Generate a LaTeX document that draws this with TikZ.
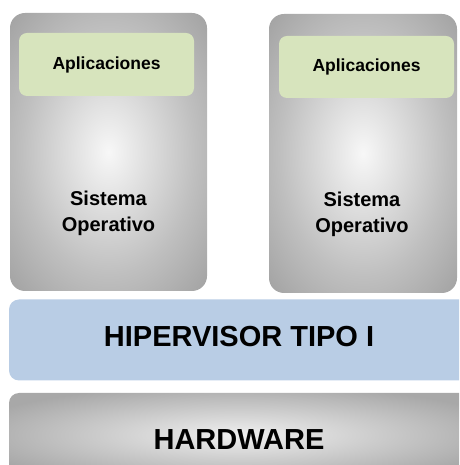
\documentclass[tikz,border=0pt]{standalone}
\usepackage{fontspec}
\setmainfont{Liberation Sans}
\usepackage{tikz}
\usetikzlibrary{positioning}

\definecolor{appgreen}{RGB}{215,228,189}
\definecolor{hypblue}{RGB}{185,205,229}
\pgfdeclareradialshading{osglow}{\pgfpoint{0bp}{0bp}}{%
  color(0bp)=(white!97!black); color(22bp)=(white!75!black);
  color(50bp)=(white!51!black); color(71bp)=(white!45!black)}
\pgfdeclareradialshading{hwglow}{\pgfpoint{0bp}{0bp}}{%
  color(0bp)=(white!94!black); color(30bp)=(white!66!black);
  color(71bp)=(white!64!black)}

\begin{document}
\begin{tikzpicture}[x=1pt, y=1pt,%
  osbox/.style={rounded corners=15pt, shading=osglow, inner sep=0pt},
  appbox/.style={rounded corners=8pt, fill=appgreen, inner sep=0pt,
    font=\bfseries\fontsize{17.5}{20}\selectfont},
  oslabel/.style={align=center, font=\bfseries\fontsize{20}{26}\selectfont},
  layer/.style={rounded corners=10pt, inner sep=0pt,
    minimum width=460pt, font=\bfseries\fontsize{29}{32}\selectfont}]

  \clip (0,0) rectangle (459,465);

  % virtual machines
  \node[osbox, minimum width=197pt, minimum height=278pt] (os1) at (108.5,313) {};
  \node[osbox, minimum width=188pt, minimum height=279pt] (os2) at (363,311.5) {};

  \node[appbox, minimum width=175pt, minimum height=63pt] (app1) at (106.5,400.5) {Aplicaciones};
  \node[appbox, minimum width=175pt, minimum height=62pt] (app2) at (366.5,398) {Aplicaciones};

  \node[oslabel] (so1) at ([yshift=-61pt]os1.center) {Sistema\\Operativo};
  \node[oslabel] (so2) at ([xshift=-1pt, yshift=-61pt]os2.center) {Sistema\\Operativo};

  % layers
  \node[layer, fill=hypblue, minimum height=81pt, text depth=8pt] (hyp) at (239,125) {HIPERVISOR TIPO I};
  \node[layer, shading=hwglow, minimum height=84pt, text height=30pt] (hw) at (239,30) {HARDWARE};
\end{tikzpicture}
\end{document}
